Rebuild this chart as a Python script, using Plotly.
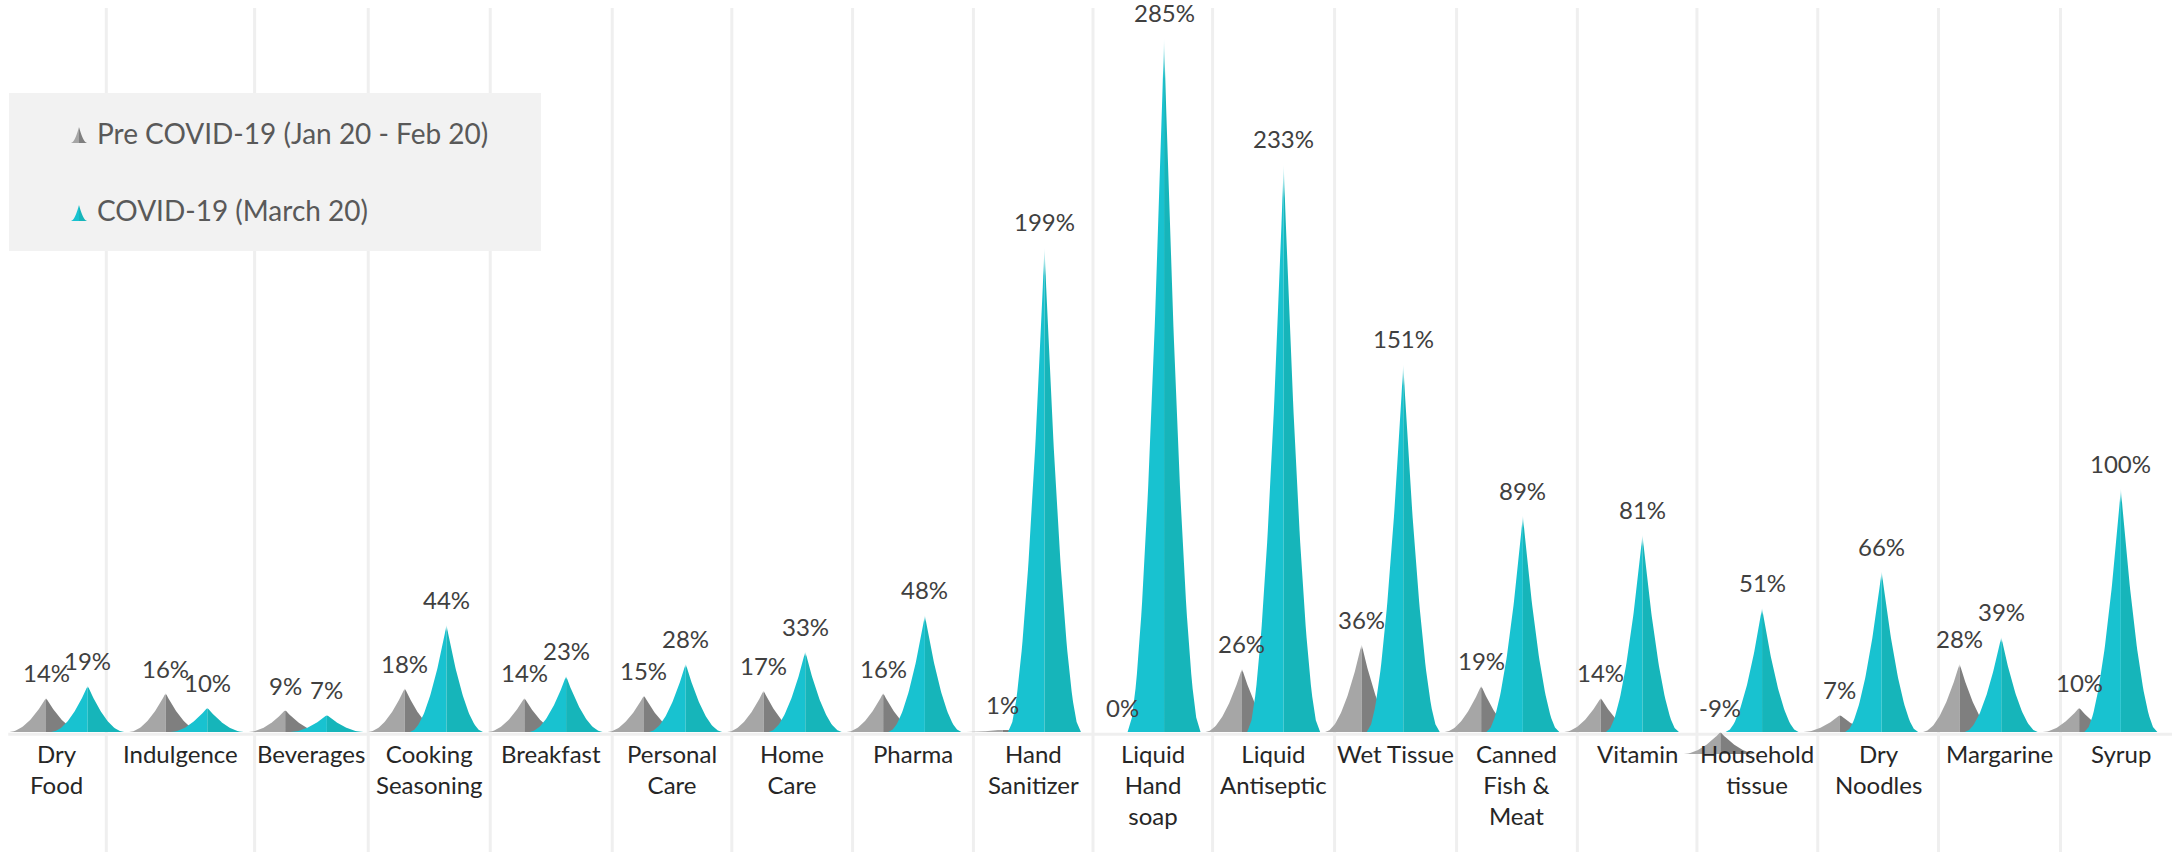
import plotly.graph_objects as go

# ---- data ----
categories = [
    "Dry<br>Food", "Indulgence", "Beverages", "Cooking<br>Seasoning", "Breakfast",
    "Personal<br>Care", "Home<br>Care", "Pharma", "Hand<br>Sanitizer",
    "Liquid<br>Hand<br>soap", "Liquid<br>Antiseptic", "Wet Tissue",
    "Canned<br>Fish &<br>Meat", "Vitamin", "Household<br>tissue", "Dry<br>Noodles",
    "Margarine", "Syrup",
]
pre_covid = [14, 16, 9, 18, 14, 15, 17, 16, 1, 0, 26, 36, 19, 14, -9, 7, 28, 10]
covid = [19, 10, 7, 44, 23, 28, 33, 48, 199, 285, 233, 151, 89, 81, 51, 66, 39, 100]
series_names = ["Pre COVID-19 (Jan 20 - Feb 20)", "COVID-19 (March 20)"]

# label-table column edges (category units); inner edges are drawn as separators
cell_edges = [-0.51, 0.33, 1.57, 2.52, 3.54, 4.56, 5.56, 6.57, 7.58, 8.58,
              9.58, 10.60, 11.62, 12.63, 13.63, 14.64, 15.65, 16.67, 17.68]

# ---- styling ----
FONT = "Lato, 'Open Sans', sans-serif"
GREY_L, GREY_D = "#A6A6A6", "#7F7F7F"
TEAL_L, TEAL_D = "#18C2D0", "#16B5BA"
OFFSET = 0.1743      # series offset from category centre
HALF_W = 0.305       # half width of a spike at its base
EXP = 0.55           # curvature of the spike flanks
X_RANGE = [-0.559, 17.602]
Y_RANGE = [-49.2, 300.2]


def half_spike(cx, base, tip, side, n=48):
    """Outline of one half (side=-1 left, +1 right) of a concave spike."""
    xs, ys = [cx, cx + side * HALF_W], [base, base]
    for i in range(1, n + 1):
        t = i / n
        xs.append(cx + side * HALF_W * (1 - t ** EXP))
        ys.append(base + (tip - base) * t)
    xs += [cx, cx]
    ys += [tip, base]
    return xs, ys


fig = go.Figure()

for values, shift, (c_left, c_right) in [
    (pre_covid, -OFFSET, (GREY_L, GREY_D)),
    (covid, OFFSET, (TEAL_L, TEAL_D)),
]:
    for k, v in enumerate(values):
        if v == 0:
            continue
        cx = k + shift
        base, tip = (0, v) if v > 0 else (v, 0)
        height = tip - base
        for side, col in [(-1, c_left), (1, c_right)]:
            xs, ys = half_spike(cx, base, tip, side)
            fig.add_trace(go.Scatter(
                x=xs, y=ys, mode="lines", fill="toself",
                line=dict(width=0, color=col), fillcolor=col,
                fillgradient=dict(
                    type="vertical",
                    colorscale=[[0, col], [1, "#FFFFFF"]],
                    start=tip - 0.06 * height, stop=tip,
                ),
                hoverinfo="skip", showlegend=False,
            ))

shapes = []
# column separators
for e in cell_edges[1:-1]:
    shapes.append(dict(type="line", xref="x", yref="y", x0=e, x1=e, y0=296.9, y1=Y_RANGE[0],
                       line=dict(color="#EFEFEF", width=3), layer="below"))
# baseline
shapes.append(dict(type="line", xref="x", yref="y", x0=-0.49, x1=X_RANGE[1], y0=-0.9, y1=-0.9,
                   line=dict(color="#EFEFEF", width=3), layer="below"))
# legend panel
W, H = 2172.0, 852.0
shapes.append(dict(type="rect", xref="paper", yref="paper",
                   x0=9 / W, x1=541 / W, y0=1 - 251 / H, y1=1 - 93 / H,
                   fillcolor="#F2F2F2", line=dict(width=0), layer="above"))


def icon_path(cx_px, base_px, tip_px, hw_px, side, n=16):
    pts = [(cx_px, base_px), (cx_px + side * hw_px, base_px)]
    for i in range(1, n + 1):
        t = i / n
        pts.append((cx_px + side * hw_px * (1 - t ** EXP), base_px + (tip_px - base_px) * t))
    pts.append((cx_px, tip_px))
    return "M " + " L ".join(f"{x / W:.5f},{1 - y / H:.5f}" for x, y in pts) + " Z"


for (base_px, tip_px), (cl, cr) in zip([(143, 127), (221, 205)],
                                       [(GREY_L, GREY_D), (TEAL_L, TEAL_D)]):
    for side, col in [(-1, cl), (1, cr)]:
        shapes.append(dict(type="path", xref="paper", yref="paper",
                           path=icon_path(79, base_px, tip_px, 8, side),
                           fillcolor=col, line=dict(width=0), layer="above"))

annotations = []
# legend entries
for name, y_px in zip(series_names, [133, 210]):
    annotations.append(dict(xref="paper", yref="paper", x=95 / W, y=1 - y_px / H,
                            xanchor="left", yanchor="middle", text=name, showarrow=False,
                            font=dict(family=FONT, size=28, color="#595959")))
# value labels above spike tips
for values, shift in [(pre_covid, -OFFSET), (covid, OFFSET)]:
    for k, v in enumerate(values):
        annotations.append(dict(xref="x", yref="y", x=k + shift, y=max(v, 0), yshift=25,
                                xanchor="center", yanchor="middle", text=f"{v}%",
                                showarrow=False,
                                font=dict(family=FONT, size=24, color="#404040")))
# category labels, centred in their table columns
for k, name in enumerate(categories):
    xc = (cell_edges[k] + cell_edges[k + 1]) / 2
    annotations.append(dict(xref="x", yref="y", x=xc, y=-2.2, xanchor="center",
                            yanchor="top", text=name, showarrow=False,
                            font=dict(family=FONT, size=24, color="#262626")))

fig.update_layout(
    width=2172, height=852,
    margin=dict(l=0, r=0, t=0, b=0),
    paper_bgcolor="white", plot_bgcolor="white",
    xaxis=dict(range=X_RANGE, visible=False, fixedrange=True),
    yaxis=dict(range=Y_RANGE, visible=False, fixedrange=True),
    shapes=shapes, annotations=annotations, showlegend=False,
)

fig.write_html("out.html")
